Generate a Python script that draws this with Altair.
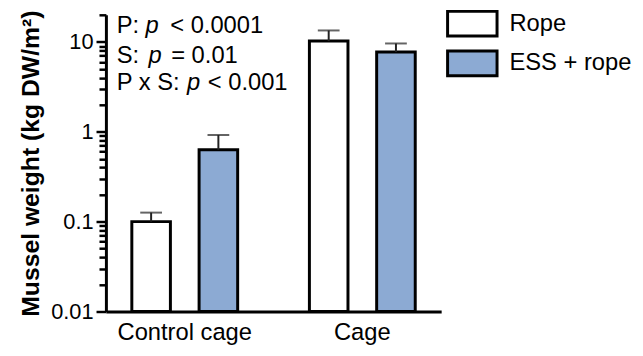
import altair as alt
import pandas as pd

groups = ["Control cage", "Control cage", "Cage", "Cage"]
series = ["Rope", "ESS + rope", "Rope", "ESS + rope"]
means = [0.10, 0.63, 10.2, 7.7]
upper = [0.126, 0.92, 13.4, 9.6]

group_order = ["Control cage", "Cage"]
series_order = ["Rope", "ESS + rope"]
series_colors = ["#ffffff", "#8caad3"]

major_ticks = [0.01, 0.1, 1, 10]
minor_ticks = [0.02, 0.03, 0.04, 0.05, 0.06, 0.07, 0.08, 0.09,
               0.2, 0.3, 0.4, 0.5, 0.6, 0.7, 0.8, 0.9,
               2, 3, 4, 5, 6, 7, 8, 9, 20]

ann_factor = ["P:", "S:", "P x S:"]
ann_p = ["p", "p", "p"]
ann_rel = ["< 0.0001", "= 0.01", "< 0.001"]

df = pd.DataFrame({"group": groups, "series": series, "mean": means, "upper": upper})

FONT = "Liberation Sans"

xenc = alt.X("group:N", sort=group_order, title=None,
             scale=alt.Scale(paddingInner=0.404, paddingOuter=0.146),
             axis=alt.Axis(labelAngle=0, labelFontSize=24, labelFont=FONT, labelColor="black",
                           ticks=False, domainWidth=3, domainColor="black", labelPadding=9))
xoff = alt.XOffset("series:N", sort=series_order,
                   scale=alt.Scale(paddingInner=0.4265, paddingOuter=0))

is_major = "abs(log(datum.value)/LN10 - round(log(datum.value)/LN10)) < 1e-6"
yscale = alt.Scale(type="log", domain=[0.01, 20], nice=False)
yaxis = alt.Axis(values=major_ticks + minor_ticks,
                 labelExpr=f"{is_major} ? format(datum.value, '~g') : ''",
                 labelOverlap=False, labelFlush=False,
                 labelFontSize=22, labelFont=FONT, labelColor="black", labelPadding=3,
                 tickSize={"condition": {"test": is_major, "value": 10}, "value": 7},
                 tickWidth=2.5, tickColor="black",
                 domainWidth=3, domainColor="black", grid=False,
                 title="Mussel weight (kg DW/m²)", titleFont=FONT, titleFontSize=25,
                 titleFontWeight="bold", titleColor="black", titlePadding=7)

base = alt.Chart(df)

bars = base.mark_bar(stroke="black", strokeWidth=3).encode(
    x=xenc, xOffset=xoff,
    y=alt.Y("mean:Q", scale=yscale, axis=yaxis, stack=None),
    color=alt.Color("series:N", sort=series_order,
                    scale=alt.Scale(domain=series_order, range=series_colors),
                    legend=alt.Legend(title=None, orient="none", legendX=356.5, legendY=-5,
                                      symbolType="M-2,-1H2V1H-2Z", symbolSize=625,
                                      symbolStrokeColor="black", symbolStrokeWidth=3,
                                      symbolOpacity=1,
                                      labelFontSize=24, labelFont=FONT, labelColor="black",
                                      labelOffset=23.5, rowPadding=2)),
)

err = base.mark_rule(color="#222222", strokeWidth=2).encode(
    x=alt.X("group:N", sort=group_order), xOffset=xoff,
    y=alt.Y("mean:Q", scale=yscale, stack=None), y2="upper:Q")

caps = base.mark_tick(color="#222222", thickness=2, size=22).encode(
    x=alt.X("group:N", sort=group_order), xOffset=xoff,
    y=alt.Y("upper:Q", scale=yscale, stack=None))

def txt(s, x, y, italic=False):
    return alt.Chart(pd.DataFrame({"t": [s]})).mark_text(
        align="left", baseline="alphabetic", fontSize=24, font=FONT,
        fontStyle="italic" if italic else "normal", color="black").encode(
        text="t:N", x=alt.value(x), y=alt.value(y))

ann = []
line_y = [18, 49, 76]
p_x = [40, 43, 82]
rel_x = [65, 66, 103]
for i in range(3):
    ann.append(txt(ann_factor[i], 11, line_y[i]))
    ann.append(txt(ann_p[i], p_x[i], line_y[i], italic=True))
    ann.append(txt(ann_rel[i], rel_x[i], line_y[i]))

chart = alt.layer(bars, err, caps, *ann).properties(
    width=339, height=300,
    autosize=alt.AutoSizeParams(type="none"),
    padding={"left": 99, "top": 5, "right": 196, "bottom": 35},
).configure_view(stroke=None)

chart.save("out.html", embed_options={"renderer": "svg", "actions": False})
